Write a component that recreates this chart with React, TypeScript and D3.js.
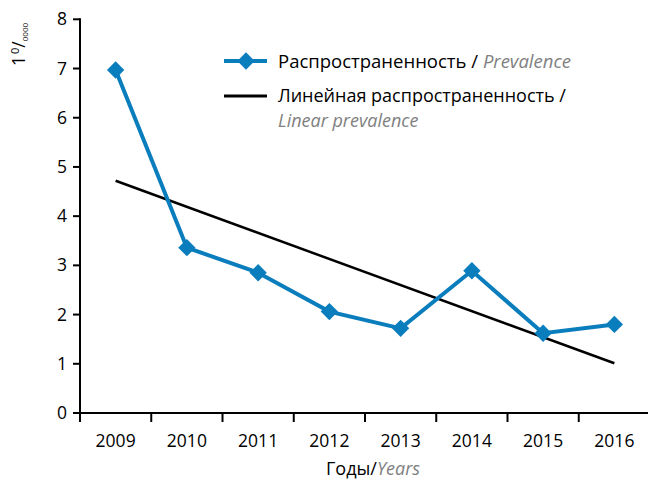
import React, { useEffect, useRef } from "react";
import * as d3 from "d3";

const years = ["2009", "2010", "2011", "2012", "2013", "2014", "2015", "2016"];
const prevalence = [6.97, 3.36, 2.85, 2.06, 1.72, 2.89, 1.62, 1.8];
// линия тренда (по концам, как на рисунке)
const trendYears = ["2009", "2016"];
const trendValues = [4.72, 1.01];
const yTicks = [0, 1, 2, 3, 4, 5, 6, 7, 8];

const W = 648;
const H = 480;
const BLUE = "#0a7dbd";
const FONT = "'Open Sans', 'Noto Sans', sans-serif";

const App = () => {
  const ref = useRef<SVGSVGElement>(null);

  useEffect(() => {
    const svg = d3.select(ref.current);
    svg.selectAll("*").remove();

    const x = d3.scaleBand<string>().domain(years).range([80, 650]);
    const y = d3.scaleLinear().domain([0, 8]).range([413, 19.3]);
    const cx = (d: string) => (x(d) as number) + x.bandwidth() / 2;

    const g = svg.append("g").attr("font-family", FONT);

    // ось X
    g.append("line")
      .attr("x1", 79).attr("x2", 650)
      .attr("y1", y(0)).attr("y2", y(0))
      .attr("stroke", "#000").attr("stroke-width", 2);
    g.selectAll(".xtick")
      .data(years)
      .join("line")
      .attr("x1", d => x(d) as number).attr("x2", d => x(d) as number)
      .attr("y1", y(0)).attr("y2", y(0) + 9)
      .attr("stroke", "#000").attr("stroke-width", 2);
    g.selectAll(".xlab")
      .data(years)
      .join("text")
      .attr("x", d => cx(d))
      .attr("y", 447)
      .attr("text-anchor", "middle")
      .attr("font-size", 17.5)
      .text(d => d);

    // ось Y
    g.append("line")
      .attr("x1", 80).attr("x2", 80)
      .attr("y1", y(8) - 1).attr("y2", y(0) + 1)
      .attr("stroke", "#000").attr("stroke-width", 2);
    g.selectAll(".ytick")
      .data(yTicks)
      .join("line")
      .attr("x1", 73).attr("x2", 80)
      .attr("y1", d => y(d)).attr("y2", d => y(d))
      .attr("stroke", "#000").attr("stroke-width", 2);
    g.selectAll(".ylab")
      .data(yTicks)
      .join("text")
      .attr("x", 67)
      .attr("y", d => y(d) + 6)
      .attr("text-anchor", "end")
      .attr("font-size", 17.5)
      .text(d => d);

    // подпись оси Y: 1 0/0000
    const yt = g.append("text")
      .attr("transform", "translate(25,66) rotate(-90)")
      .attr("font-size", 17.5);
    yt.append("tspan").text("1");
    yt.append("tspan").attr("dx", 2).attr("dy", -6).attr("font-size", 11).text("0");
    yt.append("tspan").attr("dy", 6).text("/");
    yt.append("tspan").attr("dy", 3).attr("font-size", 8).text("0000");

    // подпись оси X
    const xt = g.append("text")
      .attr("x", 373).attr("y", 475)
      .attr("text-anchor", "middle")
      .attr("font-size", 18);
    xt.append("tspan").text("Годы/");
    xt.append("tspan").attr("fill", "#808080").attr("font-style", "italic").text("Years");

    // тренд
    const line = d3.line<number>()
      .x((_, i) => cx(trendYears[i]))
      .y(d => y(d));
    g.append("path")
      .attr("d", line(trendValues))
      .attr("fill", "none")
      .attr("stroke", "#000")
      .attr("stroke-width", 2.5);

    // распространенность
    const pl = d3.line<number>()
      .x((_, i) => cx(years[i]))
      .y(d => y(d));
    g.append("path")
      .attr("d", pl(prevalence))
      .attr("fill", "none")
      .attr("stroke", BLUE)
      .attr("stroke-width", 4);

    const diamond = d3.symbol(d3.symbolSquare, 150);
    g.selectAll(".pt")
      .data(prevalence)
      .join("path")
      .attr("d", diamond)
      .attr("transform", (d, i) => `translate(${cx(years[i])},${y(d)}) rotate(45)`)
      .attr("fill", BLUE);

    // легенда
    const lg = g.append("g");
    lg.append("line")
      .attr("x1", 224).attr("x2", 267).attr("y1", 61).attr("y2", 61)
      .attr("stroke", BLUE).attr("stroke-width", 4);
    lg.append("path")
      .attr("d", diamond)
      .attr("transform", "translate(246,61) rotate(45)")
      .attr("fill", BLUE);
    const t1 = lg.append("text").attr("x", 278).attr("y", 68).attr("font-size", 18.5);
    t1.append("tspan").text("Распространенность / ");
    t1.append("tspan").attr("fill", "#808080").attr("font-style", "italic").text("Prevalence");

    lg.append("line")
      .attr("x1", 224).attr("x2", 267).attr("y1", 96).attr("y2", 96)
      .attr("stroke", "#000").attr("stroke-width", 3);
    lg.append("text").attr("x", 278).attr("y", 102).attr("font-size", 18)
      .text("Линейная распространенность /");
    lg.append("text").attr("x", 278).attr("y", 127).attr("font-size", 18)
      .attr("fill", "#808080").attr("font-style", "italic")
      .text("Linear prevalence");
  }, []);

  return (
    <svg
      ref={ref}
      width={W}
      height={H}
      style={{ position: "absolute", left: 0, top: 0, background: "#fff" }}
    />
  );
};

export default App;
